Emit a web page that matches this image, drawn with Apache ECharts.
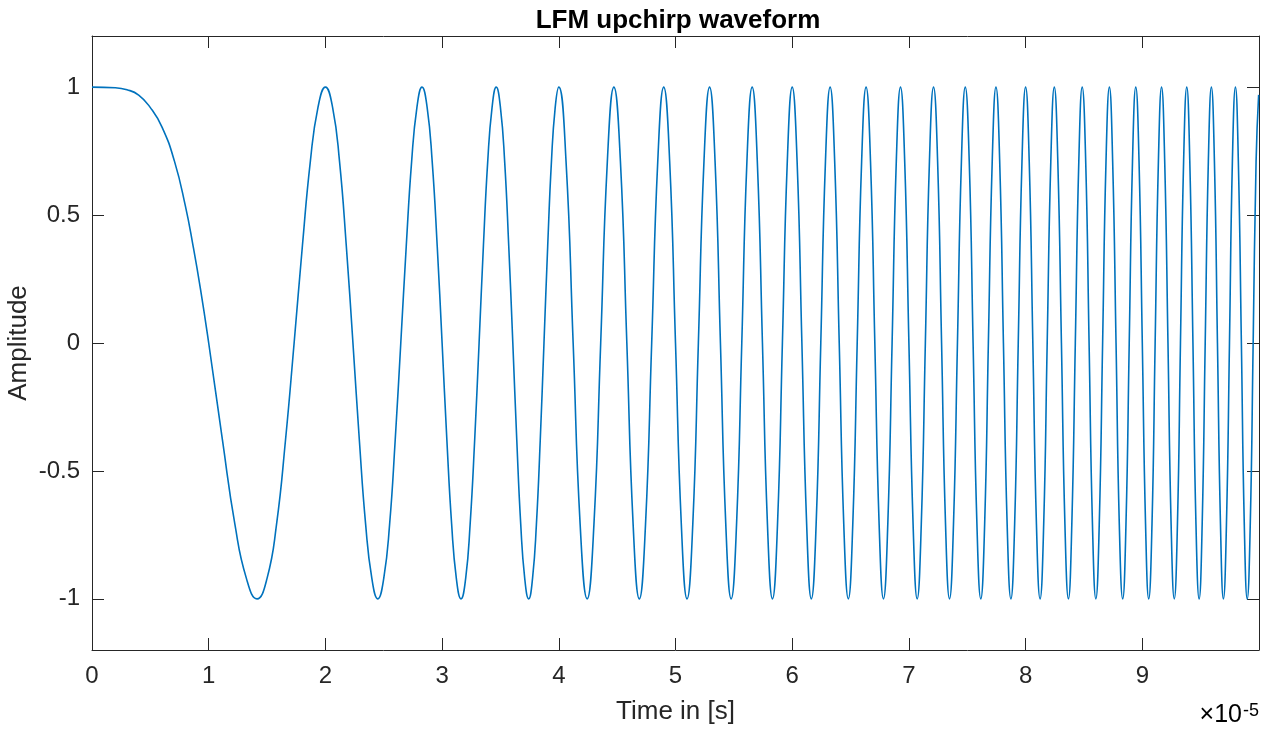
<!DOCTYPE html>
<html>
<head>
<meta charset="utf-8">
<script src="https://cdn.jsdelivr.net/npm/echarts@6/dist/echarts.min.js"></script>
<style>
html,body{margin:0;padding:0;background:#fff;}
#chart{width:1269px;height:729px;}
</style>
</head>
<body>
<div id="chart"></div>
<script>
// Time values (units of 1e-5 s) and amplitudes.
// Segment A: first cycles (t <= 4), read more densely.
var timeA = [0,0.2,0.3,0.4,0.5,0.6,0.707,0.8,0.866,0.93,1,1.118,1.225,1.323,1.414,1.5,1.581,1.658,1.732,1.803,1.871,1.936,2,2.062,2.121,2.179,2.236,2.291,2.345,2.398,2.449,2.5,2.550,2.598,2.646,2.693,2.739,2.784,2.828,2.872,2.915,2.958,3,3.041,3.082,3.122,3.162,3.202,3.240,3.279,3.317,3.354,3.391,3.428,3.464,3.5,3.536,3.571,3.606,3.640,3.674,3.708,3.742,3.775,3.808,3.841,3.873,3.905,3.937,3.969,4];
var ampA = [1,0.998,0.99,0.969,0.92,0.844,0.71,0.536,0.38,0.21,0,-0.38,-0.71,-0.92,-1,-0.92,-0.71,-0.38,0,0.38,0.71,0.92,1,
  0.92,0.71,0.38,0,-0.38,-0.71,-0.92,-1,-0.92,-0.71,-0.38,0,0.38,0.71,0.92,1,
  0.92,0.71,0.38,0,-0.38,-0.71,-0.92,-1,-0.92,-0.71,-0.38,0,0.38,0.71,0.92,1,
  0.92,0.71,0.38,0,-0.38,-0.71,-0.92,-1,-0.92,-0.71,-0.38,0,0.38,0.71,0.92,1];
// Segment B: remaining cycles (t > 4): extrema, half-amplitude points and zero crossings.
var timeB = [4.062,4.123,4.183,4.243,4.301,4.359,4.416,4.472,4.528,4.583,4.637,4.690,4.743,4.796,4.848,4.899,4.950,5,5.050,5.099,5.148,5.196,5.244,5.292,5.339,5.385,5.431,5.477,5.523,5.568,5.612,5.657,5.701,5.745,5.788,5.831,5.874,5.916,5.958,6,6.042,6.083,6.124,6.164,6.205,6.245,6.285,6.325,6.364,6.403,6.442,6.481,6.519,6.557,6.595,6.633,6.671,6.708,6.745,6.782,6.819,6.856,6.892,6.928,6.964,7,7.036,7.071,7.106,7.141,7.176,7.211,7.246,7.280,7.314,7.348,7.382,7.416,7.450,7.483,7.517,7.550,7.583,7.616,7.649,7.681,7.714,7.746,7.778,7.810,7.842,7.874,7.906,7.937,7.969,8,8.031,8.062,8.093,8.124,8.155,8.185,8.216,8.246,8.276,8.307,8.337,8.367,8.396,8.426,8.456,8.485,8.515,8.544,8.573,8.602,8.631,8.660,8.689,8.718,8.746,8.775,8.803,8.832,8.860,8.888,8.916,8.944,8.972,9,9.028,9.055,9.083,9.110,9.138,9.165,9.192,9.220,9.247,9.274,9.301,9.327,9.354,9.381,9.407,9.434,9.460,9.487,9.513,9.539,9.566,9.592,9.618,9.644,9.670,9.695,9.721,9.747,9.772,9.798,9.823,9.849,9.874,9.899,9.925,9.950,9.975,9.997];
var ampB = [0.71,0,-0.71,-1,-0.71,0,0.71,1, 0.71,0,-0.71,-1,-0.71,0,0.71,1, 0.71,0,-0.71,-1,-0.71,0,0.71,1, 0.71,0,-0.71,-1,-0.71,0,0.71,1,
  0.71,0,-0.71,-1,-0.71,0,0.71,1, 0.71,0,-0.71,-1,-0.71,0,0.71,1, 0.71,0,-0.71,-1,-0.71,0,0.71,1, 0.71,0,-0.71,-1,-0.71,0,0.71,1,
  0.71,0,-0.71,-1,-0.71,0,0.71,1, 0.71,0,-0.71,-1,-0.71,0,0.71,1, 0.71,0,-0.71,-1,-0.71,0,0.71,1, 0.71,0,-0.71,-1,-0.71,0,0.71,1,
  0.71,0,-0.71,-1,-0.71,0,0.71,1, 0.71,0,-0.71,-1,-0.71,0,0.71,1, 0.71,0,-0.71,-1,-0.71,0,0.71,1, 0.71,0,-0.71,-1,-0.71,0,0.71,1,
  0.71,0,-0.71,-1,-0.71,0,0.71,1, 0.71,0,-0.71,-1,-0.71,0,0.71,1, 0.71,0,-0.71,-1,-0.71,0,0.71,1, 0.71,0,-0.71,-1,-0.71,0,0.71,1,
  0.71,0,-0.71,-1,-0.71,0,0.71,0.97];
var xTickValues = [0,1,2,3,4,5,6,7,8,9];
var yTickValues = [-1,-0.5,0,0.5,1];
var titleText = 'LFM upchirp waveform';
var xName = 'Time in [s]';
var yName = 'Amplitude';
var xExponent = '-5';

var FONT = '"Liberation Sans", Arial, Helvetica, sans-serif';
var AX = '#262626';
var timeValues = timeA.concat(timeB);
var amplitudeValues = ampA.concat(ampB);
var data = timeValues.map(function (t, i) { return [t, amplitudeValues[i]]; });

var chart = echarts.init(document.getElementById('chart'), null, {renderer: 'canvas'});
function axisLine() { return {show: true, onZero: false, lineStyle: {color: AX, width: 1}}; }
function ticks(vals) { return {show: true, inside: true, length: 12, customValues: vals, lineStyle: {color: AX, width: 1}}; }

chart.setOption({
  animation: false,
  backgroundColor: '#ffffff',
  title: {
    text: titleText, left: 673, top: 3, textAlign: 'center',
    textStyle: {fontFamily: FONT, fontWeight: 'bold', fontSize: 26, color: '#000'}
  },
  grid: {left: 92, right: 10, top: 36, bottom: 79, containLabel: false, outerBoundsMode: 'none'},
  xAxis: [{
    type: 'value', position: 'bottom', min: 0, max: 10,
    axisLine: axisLine(), axisTick: ticks(xTickValues),
    axisLabel: {customValues: xTickValues, color: AX, fontFamily: FONT, fontSize: 24, margin: 14},
    splitLine: {show: false},
    name: xName, nameLocation: 'middle', nameGap: 49, nameMoveOverlap: false,
    nameTextStyle: {fontFamily: FONT, fontSize: 26, color: AX}
  }, {
    type: 'value', position: 'top', min: 0, max: 10,
    axisLine: axisLine(), axisTick: ticks(xTickValues),
    axisLabel: {show: false}, splitLine: {show: false}
  }],
  yAxis: [{
    type: 'value', position: 'left', min: -1.2, max: 1.2,
    axisLine: axisLine(), axisTick: ticks(yTickValues),
    axisLabel: {customValues: yTickValues, color: AX, fontFamily: FONT, fontSize: 24, margin: 12,
      formatter: function (v) { return String(v); }},
    splitLine: {show: false},
    name: yName, nameLocation: 'middle', nameGap: 60, nameRotate: 90, nameMoveOverlap: false,
    nameTextStyle: {fontFamily: FONT, fontSize: 26, color: AX}
  }, {
    type: 'value', position: 'right', min: -1.2, max: 1.2,
    axisLine: axisLine(), axisTick: ticks(yTickValues),
    axisLabel: {show: false}, splitLine: {show: false}
  }],
  graphic: [{
    type: 'text', right: 10, bottom: 1,
    style: {
      text: '{a|×10}{b|' + xExponent + '}',
      rich: {
        a: {fontFamily: FONT, fontSize: 25, color: AX, verticalAlign: 'bottom'},
        b: {fontFamily: FONT, fontSize: 18, color: AX, verticalAlign: 'top', padding: [0, 0, 8, 1]}
      }
    }
  }],
  series: [{
    type: 'line', data: data, xAxisIndex: 0, yAxisIndex: 0,
    showSymbol: false, smooth: 0.5,
    lineStyle: {color: '#0072BD', width: 1.6},
    clip: true
  }]
});
</script>
</body>
</html>
